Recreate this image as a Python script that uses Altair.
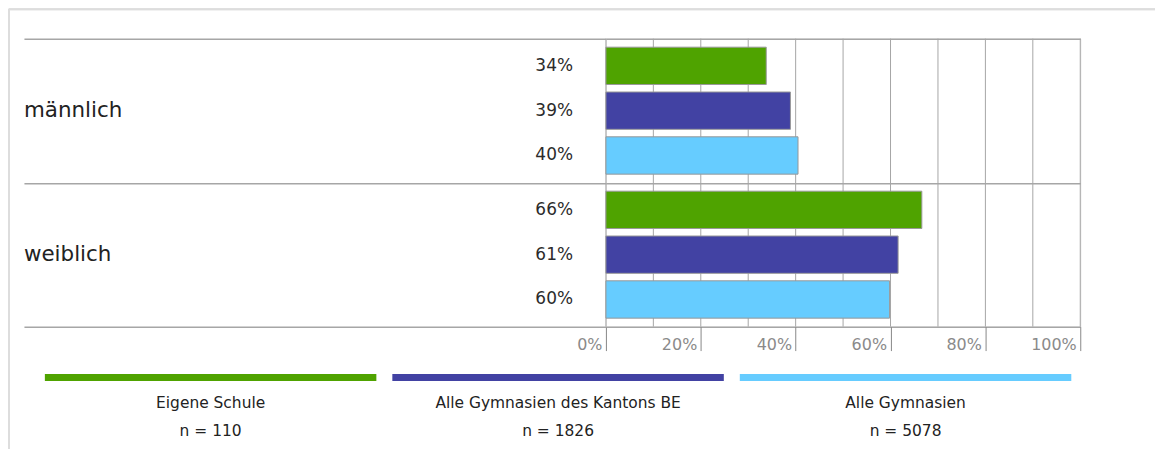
import altair as alt
import pandas as pd

genders = ["männlich", "weiblich"]
groups = ["Eigene Schule", "Alle Gymnasien des Kantons BE", "Alle Gymnasien"]
n_labels = ["n = 110", "n = 1826", "n = 5078"]
colors = ["#4fa300", "#4242a3", "#66ccff"]
values_m = [33.8, 38.9, 40.5]
values_w = [66.6, 61.6, 59.8]
labels_m = ["34%", "39%", "40%"]
labels_w = ["66%", "61%", "60%"]
grid_vals = [0, 10, 20, 30, 40, 50, 60, 70, 80, 90, 100]
tick_vals = [0, 20, 40, 60, 80, 100]

rows = []
for g, vals, labs in [(genders[0], values_m, labels_m), (genders[1], values_w, labels_w)]:
    for grp, v, l in zip(groups, vals, labs):
        rows.append({"gender": g, "group": grp, "value": v, "label": l})
df = pd.DataFrame(rows)
gdf = pd.DataFrame({"gender": genders})
grid_df = pd.DataFrame({"v": grid_vals})
leg_df = pd.DataFrame({"group": groups, "n": n_labels})

FONT = "DejaVu Sans"
GRID = "#a6a6a6"

xscale = alt.Scale(domain=[0, 100], nice=False)
yscale = alt.Scale(domain=genders, paddingInner=0, paddingOuter=0)
yoff = alt.Scale(domain=groups, paddingInner=0.167, paddingOuter=0.19)
cscale = alt.Scale(domain=groups, range=colors)

xaxis = alt.Axis(values=tick_vals, format=".0f", labelExpr="datum.label + '%'",
                 grid=False, domain=False, ticks=True, tickSize=24,
                 tickColor="#888888", tickWidth=1, labelAlign="right",
                 labelBaseline="middle", labelPadding=-6, labelOffset=-4,
                 labelColor="#8a8a8a", labelFontSize=16, labelFont=FONT,
                 title=None)

grid = alt.Chart(grid_df).mark_rule(color=GRID, strokeWidth=1).encode(
    x=alt.X("v:Q", scale=xscale, axis=xaxis)
)

bars = alt.Chart(df).mark_bar(stroke="#999999", strokeWidth=1, opacity=1).encode(
    x=alt.X("value:Q", scale=xscale, axis=xaxis),
    y=alt.Y("gender:N", scale=yscale,
            axis=alt.Axis(labels=False, title=None, domain=False, grid=True,
                          tickBand="extent", gridColor=GRID, gridWidth=1.5,
                          ticks=True, tickSize=584, tickColor=GRID, tickWidth=1.5)),
    yOffset=alt.YOffset("group:N", scale=yoff),
    color=alt.Color("group:N", scale=cscale, legend=None),
)

vlabels = alt.Chart(df).mark_text(align="right", baseline="middle", font=FONT,
                                   fontSize=17, color="#2b2b2b").encode(
    x=alt.value(-33),
    y=alt.Y("gender:N", scale=yscale),
    yOffset=alt.YOffset("group:N", scale=yoff),
    text="label:N",
)

glabels = alt.Chart(gdf).mark_text(align="left", baseline="middle", font=FONT,
                                    fontSize=21.5, color="#222222").encode(
    x=alt.value(-584),
    y=alt.Y("gender:N", scale=yscale),
    text="gender:N",
)

frame_top = alt.Chart(gdf).mark_rule(color="#dddddd", strokeWidth=2).encode(
    x=alt.value(-599), x2=alt.value(560), y=alt.value(-29.5)
)
frame_left = alt.Chart(gdf).mark_rule(color="#dddddd", strokeWidth=2).encode(
    x=alt.value(-599), y=alt.value(-30), y2=alt.value(440)
)

main = alt.layer(frame_top, frame_left, grid, bars, vlabels, glabels)

lscale = alt.Scale(domain=groups, range=[-563, 467], paddingInner=0.046, paddingOuter=0)
leg_bar = alt.Chart(leg_df).mark_bar(opacity=1).encode(
    x=alt.X("group:N", scale=lscale, axis=None),
    y=alt.value(336.5), y2=alt.value(343.5),
    color=alt.Color("group:N", scale=cscale, legend=None),
)
leg_t1 = alt.Chart(leg_df).mark_text(baseline="middle", font=FONT, fontSize=15.5,
                                      color="#222222").encode(
    x=alt.X("group:N", scale=lscale, axis=None),
    y=alt.value(366),
    text="group:N",
)
leg_t2 = alt.Chart(leg_df).mark_text(baseline="middle", font=FONT, fontSize=15.5,
                                      color="#222222").encode(
    x=alt.X("group:N", scale=lscale, axis=None),
    y=alt.value(393.5),
    text="n:N",
)
legend = alt.layer(leg_bar, leg_t1, leg_t2)

chart = alt.layer(main, legend).resolve_scale(x="independent").properties(
    width=476, height=289,
    autosize=alt.AutoSizeParams(type="none"),
    padding={"left": 600, "top": 30, "right": 75, "bottom": 122},
).configure_view(stroke=None).configure(font=FONT, background="white")

chart.save("out.html", embed_options={"renderer": "svg", "actions": False})
